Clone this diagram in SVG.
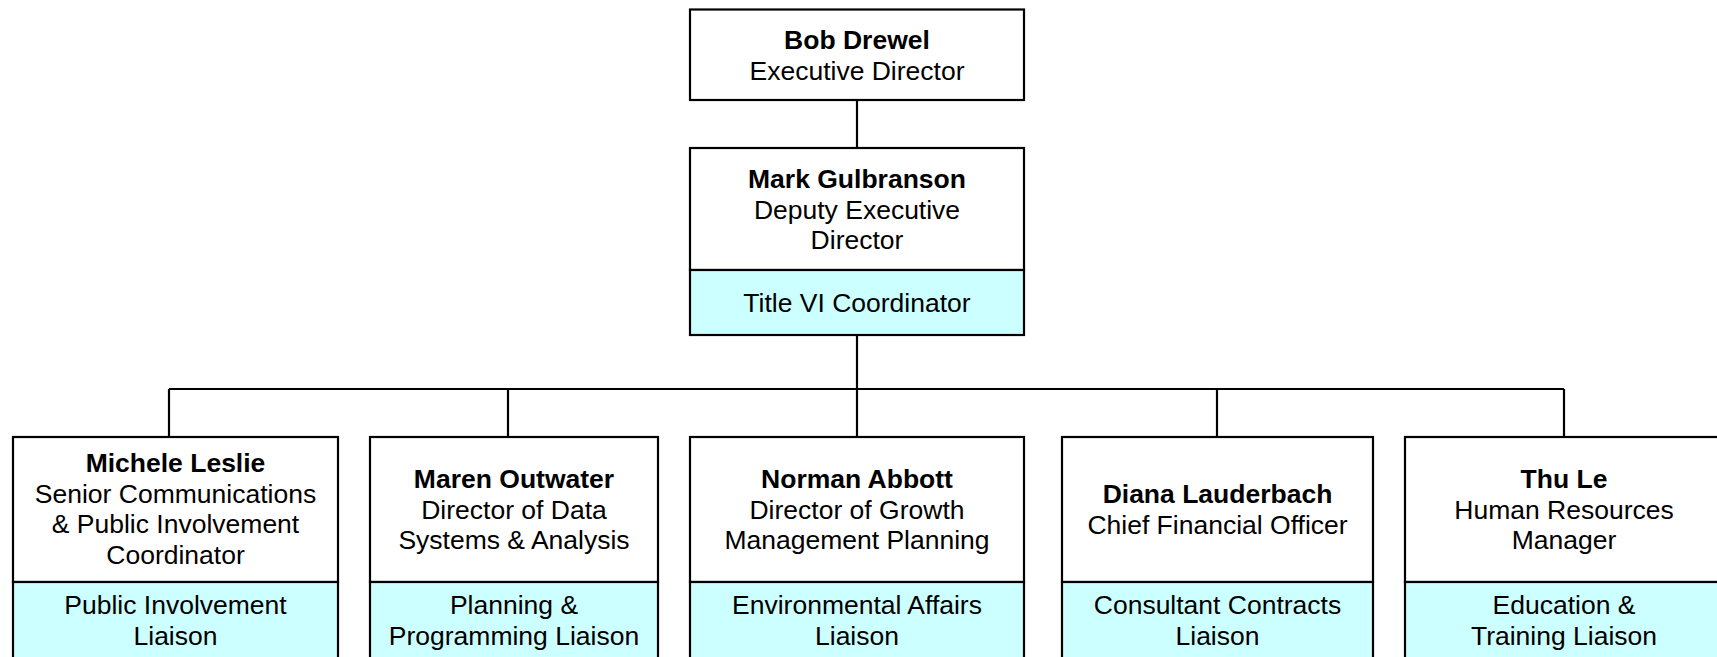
<svg xmlns="http://www.w3.org/2000/svg" width="1717" height="657" viewBox="0 0 1717 657">
  <style>
    .box { fill: #ffffff; stroke: #000000; stroke-width: 2.2; }
    .sub { fill: #ccffff; stroke: #000000; stroke-width: 2.2; }
    .link { fill: none; stroke: #000000; stroke-width: 2.2; }
    text { font-family: "Liberation Sans", Arial, sans-serif; font-size: 26.5px; fill: #000000; text-anchor: middle; }
    .name { font-weight: bold; }
  </style>
  <rect x="0" y="0" width="1717" height="657" fill="#ffffff"/>

  <g id="connectors">
    <line class="link" x1="857" y1="100" x2="857" y2="148"/>
    <line class="link" x1="857" y1="335" x2="857" y2="389"/>
    <line class="link" x1="169" y1="389" x2="1564" y2="389"/>
    <line class="link" x1="169" y1="389" x2="169" y2="437"/>
    <line class="link" x1="508" y1="389" x2="508" y2="437"/>
    <line class="link" x1="857" y1="389" x2="857" y2="437"/>
    <line class="link" x1="1217" y1="389" x2="1217" y2="437"/>
    <line class="link" x1="1564" y1="389" x2="1564" y2="437"/>
  </g>

  <g id="bob-drewel">
    <rect class="box" x="690" y="9.5" width="334" height="90.5"/>
    <text class="name" x="857" y="49">Bob Drewel</text>
    <text x="857" y="79.5">Executive Director</text>
  </g>

  <g id="mark-gulbranson">
    <rect class="box" x="690" y="148" width="334" height="122"/>
    <rect class="sub" x="690" y="270" width="334" height="65"/>
    <text class="name" x="857" y="188">Mark Gulbranson</text>
    <text x="857" y="218.5">Deputy Executive</text>
    <text x="857" y="249">Director</text>
    <text x="857" y="312">Title VI Coordinator</text>
  </g>

  <g id="michele-leslie">
    <rect class="box" x="13" y="437" width="325" height="145"/>
    <rect class="sub" x="13" y="582" width="325" height="100"/>
    <text class="name" x="175.5" y="472">Michele Leslie</text>
    <text x="175.5" y="502.5">Senior Communications</text>
    <text x="175.5" y="533">&amp; Public Involvement</text>
    <text x="175.5" y="563.5">Coordinator</text>
    <text x="175.5" y="614">Public Involvement</text>
    <text x="175.5" y="644.5">Liaison</text>
  </g>

  <g id="maren-outwater">
    <rect class="box" x="370" y="437" width="288" height="145"/>
    <rect class="sub" x="370" y="582" width="288" height="100"/>
    <text class="name" x="514" y="488">Maren Outwater</text>
    <text x="514" y="518.5">Director of Data</text>
    <text x="514" y="549">Systems &amp; Analysis</text>
    <text x="514" y="614">Planning &amp;</text>
    <text x="514" y="644.5">Programming Liaison</text>
  </g>

  <g id="norman-abbott">
    <rect class="box" x="690" y="437" width="334" height="145"/>
    <rect class="sub" x="690" y="582" width="334" height="100"/>
    <text class="name" x="857" y="488">Norman Abbott</text>
    <text x="857" y="518.5">Director of Growth</text>
    <text x="857" y="549">Management Planning</text>
    <text x="857" y="614">Environmental Affairs</text>
    <text x="857" y="644.5">Liaison</text>
  </g>

  <g id="diana-lauderbach">
    <rect class="box" x="1062" y="437" width="311" height="145"/>
    <rect class="sub" x="1062" y="582" width="311" height="100"/>
    <text class="name" x="1217.5" y="503">Diana Lauderbach</text>
    <text x="1217.5" y="533.5">Chief Financial Officer</text>
    <text x="1217.5" y="614">Consultant Contracts</text>
    <text x="1217.5" y="644.5">Liaison</text>
  </g>

  <g id="thu-le">
    <rect class="box" x="1405" y="437" width="318" height="145"/>
    <rect class="sub" x="1405" y="582" width="318" height="100"/>
    <text class="name" x="1564" y="488">Thu Le</text>
    <text x="1564" y="518.5">Human Resources</text>
    <text x="1564" y="549">Manager</text>
    <text x="1564" y="614">Education &amp;</text>
    <text x="1564" y="644.5">Training Liaison</text>
  </g>
</svg>
